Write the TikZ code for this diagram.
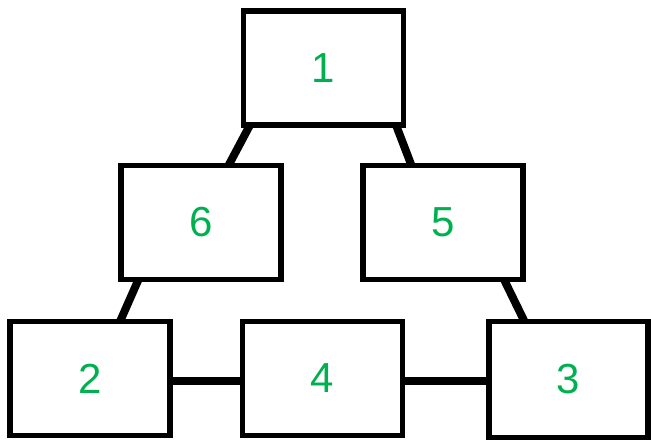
\documentclass[tikz,border=0pt]{standalone}
\usepackage{fontspec}
\setmainfont{Liberation Sans}
\usetikzlibrary{calc}
\definecolor{numgreen}{RGB}{0,176,80}
\tikzset{
  box/.style={draw=black, line width=5.5pt, fill=white, inner sep=0pt, outer sep=0pt,
    minimum width=160pt, minimum height=114pt, text=numgreen, font=\fontsize{42}{42}\selectfont},
  link/.style={draw=black, line width=8pt}
}
\begin{document}
\begin{tikzpicture}[x=1pt,y=1pt]
\useasboundingbox (0,0) rectangle (651,-441);
\node[box] (b1) at (323.5,-68) {1};
\node[box] (b6) at (201,-222.5) {6};
\node[box] (b5) at (443,-222.5) {5};
\node[box] (b2) at (90,-378.5) {2};
\node[box] (b4) at (322.5,-378.5) {4};
\node[box, minimum width=159pt, minimum height=116pt] (b3) at (568.5,-379.5) {3};
\draw[link] ($(b1.south west)+(6.5,0)$) -- ($(b6.north east)+(-52.5,0)$);
\draw[link] ($(b1.south east)+(-7.5,0)$) -- ($(b5.north west)+(48.5,0)$);
\draw[link] ($(b6.south west)+(17.5,0)$) -- ($(b2.north west)+(110,0)$);
\draw[link] ($(b5.south east)+(-19,0)$) -- ($(b3.north west)+(35.5,0)$);
\draw[link] (b2.east |- 0,-380.5) -- (b4.west |- 0,-380.5);
\draw[link] (b4.east |- 0,-380.5) -- (b3.west |- 0,-380.5);
\end{tikzpicture}
\end{document}
